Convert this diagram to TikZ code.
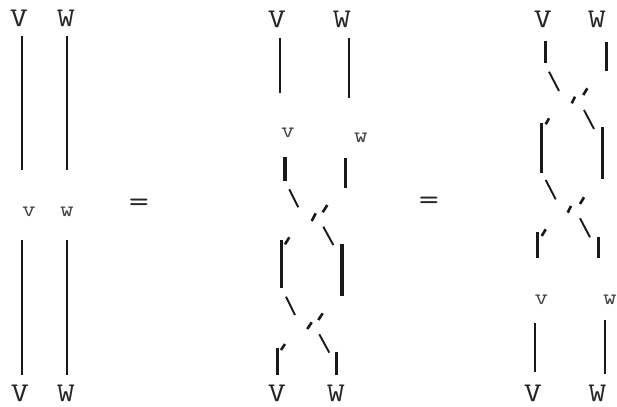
\documentclass[tikz,border=0pt]{standalone}
\usepackage{tikz}

\begin{document}
\begin{tikzpicture}[x=1pt,y=-1pt,
  font=\fontsize{27}{27}\fontseries{l}\selectfont\ttfamily,
  lbl/.style={inner sep=0pt,text=black!85,xscale=1.3},
  sml/.style={inner sep=0pt,text=black!75,xscale=1.2,font=\fontsize{22}{22}\fontseries{l}\selectfont\ttfamily},
  eqs/.style={lbl,font=\fontsize{30}{30}\selectfont\ttfamily},
  strand/.style={line width=2.6pt,black!90},
  fat/.style={line width=3.8pt,black!90},
  slash/.style={line width=1.9pt,black!90},
  tick/.style={line width=2.6pt,black!90}]
\useasboundingbox (0,0) rectangle (617,406);
% ---------- Left: identity ----------
\node[lbl] (vtop1) at (19,18) {V};
\node[lbl] (wtop1) at (66,18) {W};
\node[sml] (vmid1) at (29,212) {v};
\node[sml] (wmid1) at (67,212) {w};
\node[lbl] (vbot1) at (20,393) {V};
\node[lbl] (wbot1) at (66,393) {W};
\draw[strand] (22,36) -- (22,170) (67,36) -- (67,170);
\draw[strand] (22,240) -- (22,375) (67,240) -- (67,375);
\node[eqs] (eq1) at (139,205) {=};
% ---------- Middle: double crossing below ----------
\node[lbl] (vtop2) at (277,19) {V};
\node[lbl] (wtop2) at (342,19) {W};
\node[sml] (vmid2) at (288,133) {v};
\node[sml] (wmid2) at (361,138) {w};
\node[lbl] (vbot2) at (277,393) {V};
\node[lbl] (wbot2) at (336,393) {W};
\draw[strand,line width=2pt] (280,38) -- (280,93);
\draw[strand] (349,38) -- (349,98);
\draw[fat] (284.7,157) -- (284.7,181);
\draw[strand,line width=3pt] (345.5,158) -- (345.5,188);
\draw[slash] (289.3,189.3) -- (298.3,207.3);
\draw[tick] (311.7,221) -- (315.7,213.3);
\draw[tick] (322.7,212.3) -- (327.3,205);
\draw[slash] (323.3,226.7) -- (333.3,245);
\draw[tick] (285,244.3) -- (289.3,237.3);
\draw[strand,line width=2.7pt] (281.3,240) -- (281.3,288);
\draw[fat] (342,244) -- (342,296);
\draw[slash] (286,296.7) -- (295,315);
\draw[tick] (307.3,329) -- (311.7,322.3);
\draw[tick] (318.3,320) -- (322.7,313.3);
\draw[slash] (319.3,334.3) -- (329.3,352.7);
\draw[tick] (281,350) -- (285,344);
\draw[strand,line width=2.7pt] (277.3,348) -- (277.3,374.5);
\draw[strand,line width=2.7pt] (336.7,351.7) -- (336.7,374.5);
\node[eqs] (eq2) at (429,203) {=};
% ---------- Right: double crossing above ----------
\node[lbl] (vtop3) at (543,19) {V};
\node[lbl] (wtop3) at (597,19) {W};
\node[sml] (vmid3) at (541.5,300) {v};
\node[sml] (wmid3) at (610,300) {w};
\node[lbl] (vbot3) at (533,393) {V};
\node[lbl] (wbot3) at (597.5,393) {W};
\draw[strand,line width=3pt] (545.5,40.7) -- (545.5,62.7);
\draw[strand,line width=3pt] (606.5,41.7) -- (606.5,70.7);
\draw[slash] (549,71.7) -- (559,91);
\draw[tick] (571.7,103.3) -- (575,96.7);
\draw[tick] (583.3,95) -- (587.3,88.3);
\draw[slash] (584,110) -- (594,129);
\draw[tick] (545.7,124.3) -- (549,118.3);
\draw[strand,line width=3pt] (541,123.3) -- (541,172.7);
\draw[strand,line width=3pt] (602.3,127.3) -- (602.3,179.3);
\draw[slash] (545.7,180) -- (555.7,199.3);
\draw[tick] (567.7,212.7) -- (571,206);
\draw[tick] (580,204) -- (584,197.3);
\draw[slash] (580,218.3) -- (590,237.3);
\draw[tick] (541.7,236) -- (545.7,229.3);
\draw[strand,line width=3pt] (537.5,232.3) -- (537.5,258.3);
\draw[strand,line width=3pt] (598.5,236.7) -- (598.5,258.3);
\draw[strand,line width=2.3pt] (534.7,322.7) -- (534.7,371.7);
\draw[strand,line width=2.3pt] (604.7,320) -- (604.7,374.3);
\end{tikzpicture}
\end{document}
